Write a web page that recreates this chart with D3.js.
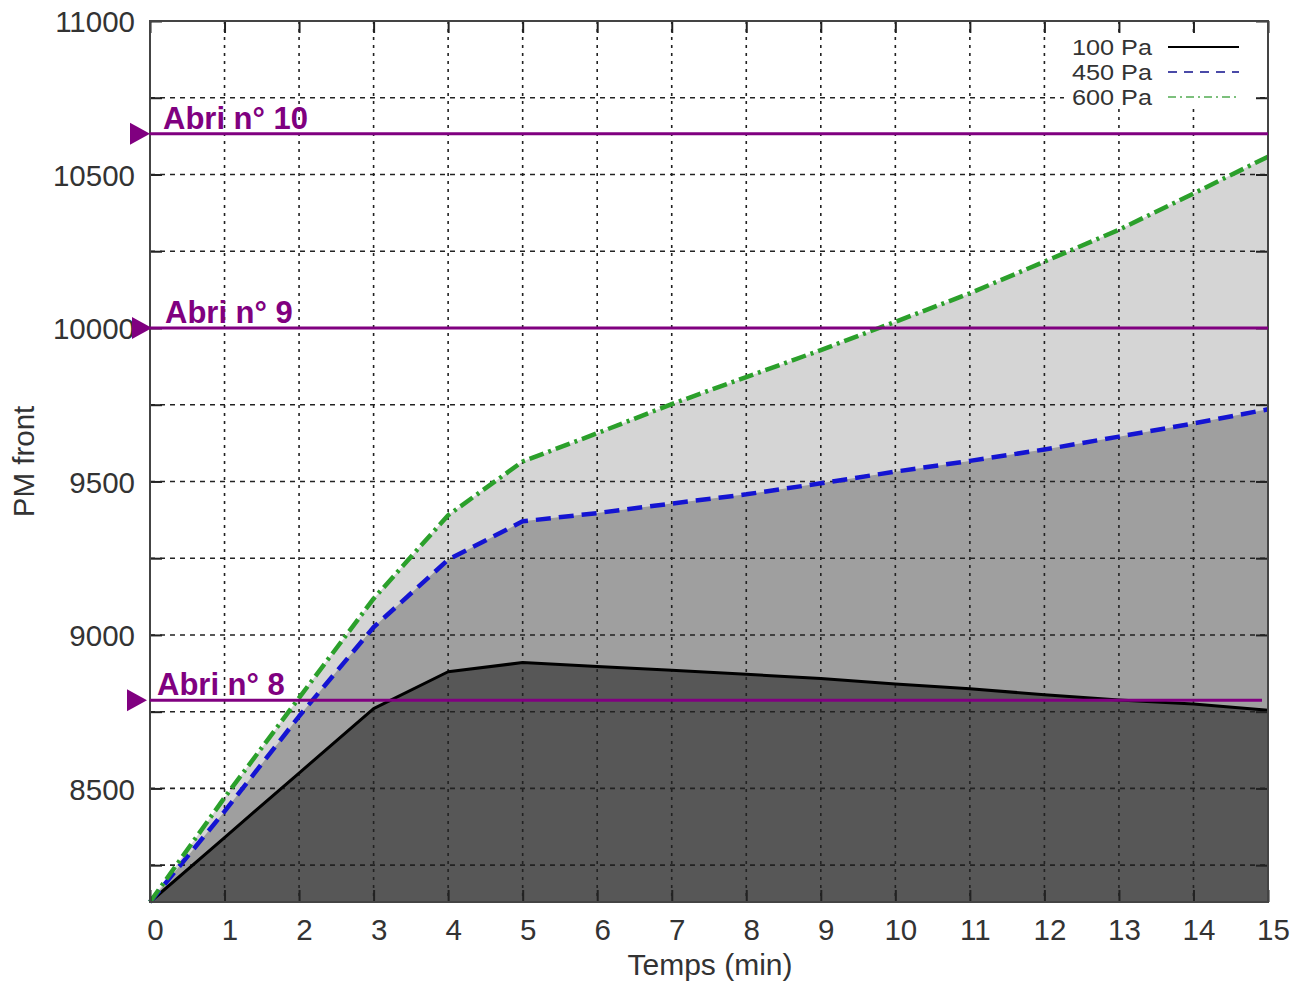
<!DOCTYPE html>
<html>
<head>
<meta charset="utf-8">
<script src="https://cdn.jsdelivr.net/npm/d3@7"></script>
<style>
  html, body { margin: 0; padding: 0; background: #fff; }
  svg { display: block; }
  text { font-family: "Liberation Sans", Arial, Helvetica, sans-serif; }
</style>
</head>
<body>
<svg id="chart" width="1299" height="982"></svg>
<script>
// ---- Data ----
const minutes = [0, 1, 2, 3, 4, 5, 6, 7, 8, 9, 10, 11, 12, 13, 14, 15];
const pa100 = [8130, 8340, 8550, 8760, 8880, 8910, 8897, 8885, 8872, 8858, 8840, 8825, 8805, 8788, 8775, 8755];
const pa450 = [8130, 8425, 8735, 9025, 9245, 9370, 9397, 9428, 9458, 9494, 9532, 9567, 9604, 9646, 9689, 9735];
const pa600 = [8130, 8470, 8795, 9118, 9390, 9565, 9657, 9752, 9840, 9928, 10020, 10113, 10216, 10320, 10438, 10558];
const seriesNames = ["100 Pa", "450 Pa", "600 Pa"];
const xTicks = [0, 1, 2, 3, 4, 5, 6, 7, 8, 9, 10, 11, 12, 13, 14, 15];
const yTicks = [8250, 8500, 8750, 9000, 9250, 9500, 9750, 10000, 10250, 10500, 10750, 11000];
const yTickLabels = [8500, 9000, 9500, 10000, 10500, 11000];
const shelterNames = ["Abri n° 10", "Abri n° 9", "Abri n° 8"];
const shelterValues = [10633, 10000, 8787];

// ---- Layout ----
const svg = d3.select("#chart");
const L = 150, R = 1268, T = 21, B = 902;
const x = d3.scaleLinear().domain([0, 15]).range([L, R]);
const y = d3.scaleLinear().domain([8130, 11000]).range([B, T]);

const styles = [
  { fill: "#575757", stroke: "#000000", width: 3, dash: null, legendColor: "#000", legendDash: null },
  { fill: "#9f9f9f", stroke: "#1414d2", width: 4.5, dash: "15,8", legendColor: "#4a4aa8", legendDash: "9,7" },
  { fill: "#d5d5d5", stroke: "#2ba02b", width: 4.5, dash: "15,5,3,5", legendColor: "#7cc07c", legendDash: "8,4,2,4" }
];
const seriesData = [pa100, pa450, pa600];

const area = (vals) => d3.area().x((d, i) => x(minutes[i])).y0(B).y1(d => y(d))(vals);
const line = (vals) => d3.line().x((d, i) => x(minutes[i])).y(d => y(d))(vals);

// fills, back to front
[2, 1, 0].forEach(k => {
  svg.append("path").attr("d", area(seriesData[k])).attr("fill", styles[k].fill);
});

// grid
const grid = svg.append("g");
grid.selectAll("line.v").data(xTicks.filter(t => t > 0 && t < 15)).enter().append("line")
  .attr("x1", d => x(d)).attr("x2", d => x(d)).attr("y1", T).attr("y2", B)
  .attr("stroke", "#222").attr("stroke-width", 1.6).attr("stroke-dasharray", "3,5");
grid.selectAll("line.h").data(yTicks.filter(t => t < 11000)).enter().append("line")
  .attr("x1", L).attr("x2", R).attr("y1", d => y(d)).attr("y2", d => y(d))
  .attr("stroke", "#222").attr("stroke-width", 1.6).attr("stroke-dasharray", "5,5");

// series lines
[0, 1, 2].forEach(k => {
  svg.append("path").attr("d", line(seriesData[k])).attr("fill", "none")
    .attr("stroke", styles[k].stroke).attr("stroke-width", styles[k].width)
    .attr("stroke-dasharray", styles[k].dash).attr("stroke-linejoin", "round");
});

// axes (ticks inside on all four sides)
const fmtY = d => yTickLabels.includes(d) ? String(d) : "";
const axL = svg.append("g").attr("transform", `translate(${L},0)`)
  .call(d3.axisLeft(y).tickValues(yTicks).tickSize(-12).tickPadding(15).tickFormat(fmtY));
const axR = svg.append("g").attr("transform", `translate(${R},0)`)
  .call(d3.axisRight(y).tickValues(yTicks).tickSize(-12).tickFormat(""));
const axB = svg.append("g").attr("transform", `translate(0,${B})`)
  .call(d3.axisBottom(x).tickValues(xTicks).tickSize(-12).tickPadding(17).tickFormat(d3.format("d")));
const axT = svg.append("g").attr("transform", `translate(0,${T})`)
  .call(d3.axisTop(x).tickValues(xTicks).tickSize(-12).tickFormat(""));
[axL, axR, axB, axT].forEach(a => {
  a.select(".domain").remove();
  a.selectAll(".tick line").attr("stroke", "#222").attr("stroke-width", 2);
});
axL.selectAll(".tick text").attr("font-size", 29.5).attr("fill", "#333").attr("dy", "0.36em");
axB.selectAll(".tick text").attr("font-size", 29.5).attr("fill", "#333").attr("dx", 5);

// frame
svg.append("rect").attr("x", L).attr("y", T).attr("width", R - L).attr("height", B - T)
  .attr("fill", "none").attr("stroke", "#444").attr("stroke-width", 2);

// axis titles
svg.append("text").attr("transform", `translate(34,${(T + B) / 2}) rotate(-90)`)
  .attr("text-anchor", "middle").attr("font-size", 29.5).attr("fill", "#333").text("PM front");
svg.append("text").attr("x", 710).attr("y", 975)
  .attr("text-anchor", "middle").attr("font-size", 30).attr("fill", "#333").text("Temps (min)");

// legend
const lg = svg.append("g");
lg.append("rect").attr("x", 1064).attr("y", 33).attr("width", 191).attr("height", 75).attr("fill", "#fff");
[0, 1, 2].forEach(k => {
  const yy = 47 + k * 25;
  lg.append("text").attr("x", 1152).attr("y", yy).attr("dy", "0.36em").attr("text-anchor", "end")
    .attr("font-size", 22).attr("textLength", 80).attr("lengthAdjust", "spacingAndGlyphs")
    .attr("fill", "#333").text(seriesNames[k]);
  lg.append("line").attr("x1", 1168).attr("x2", 1239).attr("y1", yy).attr("y2", yy)
    .attr("stroke", styles[k].legendColor).attr("stroke-width", 2)
    .attr("stroke-dasharray", styles[k].legendDash);
});

// shelter lines
const purple = "#800080";
const shelterLabelX = [163, 165, 157];
const shelterLineEnd = [R, R, 1262];
const shelterTip = [150, 152, 147];
shelterNames.forEach((name, i) => {
  const yy = y(shelterValues[i]);
  svg.append("line").attr("x1", L).attr("x2", shelterLineEnd[i]).attr("y1", yy).attr("y2", yy)
    .attr("stroke", purple).attr("stroke-width", 3);
  const tip = shelterTip[i];
  svg.append("path").attr("d", `M${tip},${yy} L${tip - 20},${yy - 11} L${tip - 20},${yy + 11} Z`)
    .attr("fill", purple);
  svg.append("text").attr("x", shelterLabelX[i]).attr("y", yy - 5)
    .attr("font-size", 31).attr("font-weight", "bold").attr("fill", purple).text(name);
});
</script>
</body>
</html>
